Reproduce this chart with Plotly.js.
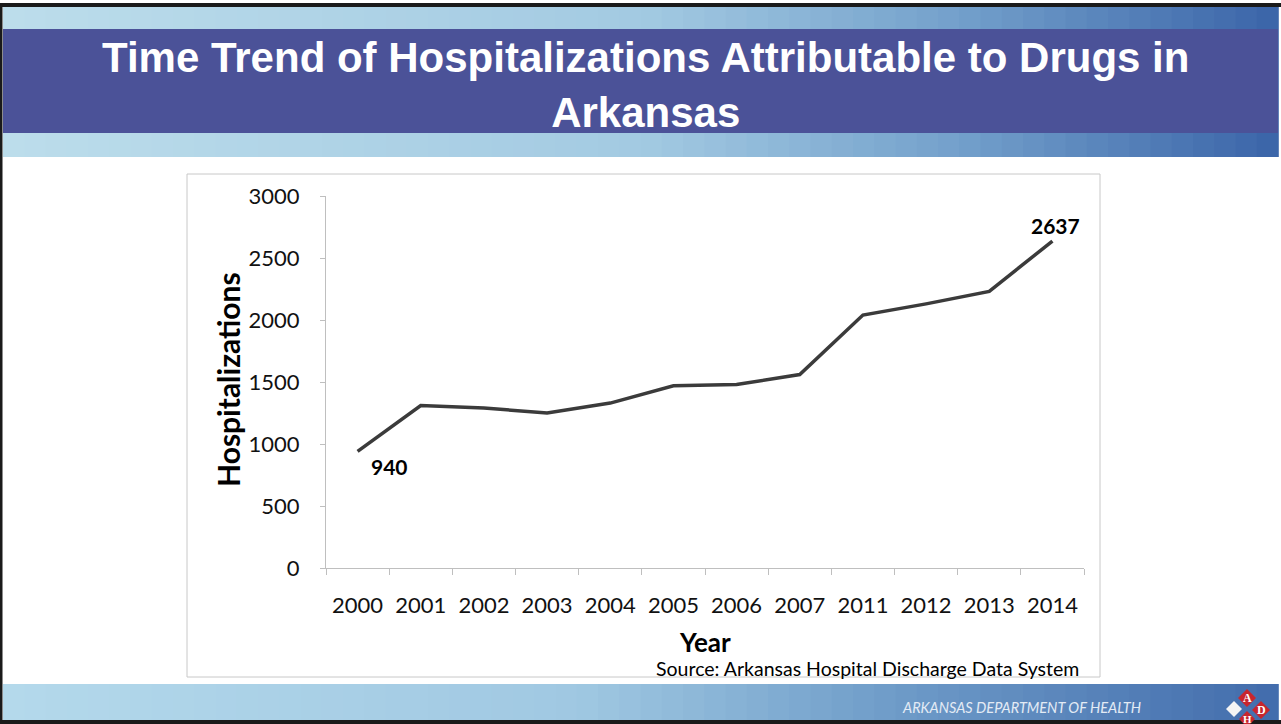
<!DOCTYPE html>
<html>
<head>
<meta charset="utf-8">
<script src="https://cdn.plot.ly/plotly-3.0.1.min.js"></script>
<style>
html,body{margin:0;padding:0;background:#fff;}
#chart{width:1281px;height:724px;}
</style>
</head>
<body>
<div id="chart"></div>
<script>
// ---- data ----
var years = ["2000","2001","2002","2003","2004","2005","2006","2007","2011","2012","2013","2014"];
var hospitalizations = [940, 1310, 1290, 1250, 1330, 1470, 1480, 1560, 2040, 2130, 2230, 2637];
var labelIndex = [0, 11];
var titleText = "Time Trend of Hospitalizations Attributable to Drugs in<br>Arkansas";
var yTitle = "Hospitalizations";
var xTitle = "Year";
var sourceText = "Source: Arkansas Hospital Discharge Data System";
var footerText = "ARKANSAS DEPARTMENT OF HEALTH";

// ---- helpers (page pixels -> paper) ----
var W = 1281, H = 724;
function px(x){ return x / W; }
function py(y){ return 1 - y / H; }
function rect(x0,y0,x1,y1,fill,line){
  return {type:'rect', xref:'paper', yref:'paper', x0:px(x0), x1:px(x1), y0:py(y1), y1:py(y0),
          fillcolor:fill, line: line || {width:0}, layer:'below'};
}
function lerpColor(stops, t){
  for (var i=0;i<stops.length-1;i++){
    if (t <= stops[i+1][0]){
      var a=stops[i], b=stops[i+1], f=(t-a[0])/(b[0]-a[0]);
      var c=[0,1,2].map(function(k){return Math.round(a[1][k]+(b[1][k]-a[1][k])*f);});
      return 'rgb('+c.join(',')+')';
    }
  }
  var l=stops[stops.length-1][1]; return 'rgb('+l.join(',')+')';
}
function gradientBand(x0,x1,y0,y1,stops,n){
  var out=[], w=(x1-x0)/n;
  for (var i=0;i<n;i++){
    out.push(rect(x0+i*w, y0, x0+(i+1)*w+0.8, y1, lerpColor(stops,(i+0.5)/n)));
  }
  return out;
}
function diamond(cx,cy,r,fill){
  return {type:'path', xref:'paper', yref:'paper',
    path:'M '+px(cx)+' '+py(cy-r)+' L '+px(cx+r)+' '+py(cy)+' L '+px(cx)+' '+py(cy+r)+' L '+px(cx-r)+' '+py(cy)+' Z',
    fillcolor:fill, line:{width:0}, layer:'above'};
}

var shapes = [];
// top banner gradient strip
shapes = shapes.concat(gradientBand(3, 1278, 7, 157,
  [[0,[188,221,235]],[0.5,[163,202,226]],[0.75,[115,160,203]],[1,[58,100,168]]], 60));
// dark band
shapes.push(rect(3, 29, 1278, 133, '#4b5298'));
// footer gradient
shapes = shapes.concat(gradientBand(3, 1278, 684, 720,
  [[0,[180,217,235]],[0.45,[160,200,226]],[0.7,[110,155,200]],[1,[66,108,172]]], 60));
// slide borders
shapes.push(rect(0, 3, 1281, 7, '#1a1a1a'));
shapes.push(rect(0, 3, 2.5, 724, '#1a1a1a'));
shapes.push(rect(0, 720, 1281, 724, '#1a1a1a'));
// chart box
shapes.push({type:'rect', xref:'paper', yref:'paper', x0:px(187), x1:px(1100), y0:py(677), y1:py(174),
  fillcolor:'rgba(0,0,0,0)', line:{color:'#c8c8c8', width:1}, layer:'below'});
// logo
shapes.push(diamond(1247, 698, 9, '#c8262e'));
shapes.push(diamond(1261, 710, 9, '#c8262e'));
shapes.push(diamond(1247, 719, 8, '#c8262e'));
shapes.push(diamond(1234, 709, 8, '#f4f4f4'));

var annotations = [
  {xref:'paper', yref:'paper', x:px(645), y:py(85), xanchor:'center', yanchor:'middle', showarrow:false,
   text:'<b>'+titleText+'</b>', font:{family:'Liberation Sans, Arial, sans-serif', size:42, color:'#ffffff'}},
  {xref:'paper', yref:'paper', x:px(228), y:py(380), xanchor:'center', yanchor:'middle', showarrow:false,
   textangle:-90, text:'<b>'+yTitle+'</b>', font:{family:'Lato, sans-serif', size:30, color:'#000'}},
  {xref:'paper', yref:'paper', x:px(705), y:py(642), xanchor:'center', yanchor:'middle', showarrow:false,
   text:'<b>'+xTitle+'</b>', font:{family:'Lato, sans-serif', size:26, color:'#000'}},
  {xref:'paper', yref:'paper', x:px(1081), y:py(668), xanchor:'right', yanchor:'middle', showarrow:false,
   text:sourceText, font:{family:'Lato, sans-serif', size:19.5, color:'#000'}},
  {xref:'paper', yref:'paper', x:px(1021), y:py(707), xanchor:'center', yanchor:'middle', showarrow:false,
   text:'<i>'+footerText+'</i>', font:{family:'Lato, sans-serif', size:14.5, color:'#e3ebf5'}},
  {xref:'paper', yref:'paper', x:px(1247), y:py(698), xanchor:'center', yanchor:'middle', showarrow:false,
   text:'<b>A</b>', font:{family:'Liberation Serif, serif', size:12, color:'#ffffff'}},
  {xref:'paper', yref:'paper', x:px(1261), y:py(710), xanchor:'center', yanchor:'middle', showarrow:false,
   text:'<b>D</b>', font:{family:'Liberation Serif, serif', size:12, color:'#ffffff'}},
  {xref:'paper', yref:'paper', x:px(1247), y:py(719), xanchor:'center', yanchor:'middle', showarrow:false,
   text:'<b>H</b>', font:{family:'Liberation Serif, serif', size:11, color:'#ffffff'}}
];

// data labels for first and last points, placed from the data (category index on x)
var labelShift = {0:[32,-15], 11:[3,16]};
labelIndex.forEach(function(i){
  annotations.push({xref:'x', yref:'y', x:i, y:hospitalizations[i], showarrow:false,
    xanchor:'center', yanchor:'middle', xshift:labelShift[i][0], yshift:labelShift[i][1],
    text:'<b>'+hospitalizations[i]+'</b>', font:{family:'Lato, sans-serif', size:21, color:'#000'}});
});

var trace = {
  type:'scatter', mode:'lines', x:years, y:hospitalizations,
  line:{color:'#3b3b3b', width:3.5},
  hoverinfo:'x+y', cliponaxis:false
};

var layout = {
  width:W, height:H, margin:{l:0,r:0,t:0,b:0},
  paper_bgcolor:'#ffffff', plot_bgcolor:'rgba(0,0,0,0)',
  showlegend:false,
  xaxis:{type:'category', domain:[px(326), px(1084)], range:[-0.5, 11.5],
    showgrid:false, zeroline:false, showline:true, linecolor:'#bfbfbf', linewidth:1,
    ticks:'outside', tickson:'boundaries', ticklen:6, tickcolor:'#bfbfbf',
    tickfont:{family:'Lato, sans-serif', size:22, color:'#111'}, ticklabelstandoff:18},
  yaxis:{domain:[py(568), py(196)], range:[0,3000], dtick:500, tick0:0,
    showgrid:false, zeroline:false, showline:true, linecolor:'#bfbfbf', linewidth:1,
    ticks:'outside', ticklen:5, tickcolor:'#bfbfbf',
    tickfont:{family:'Lato, sans-serif', size:22, color:'#111'}, ticklabelstandoff:16},
  shapes:shapes, annotations:annotations
};

Plotly.newPlot('chart', [trace], layout, {displayModeBar:false, staticPlot:true});
</script>
</body>
</html>
